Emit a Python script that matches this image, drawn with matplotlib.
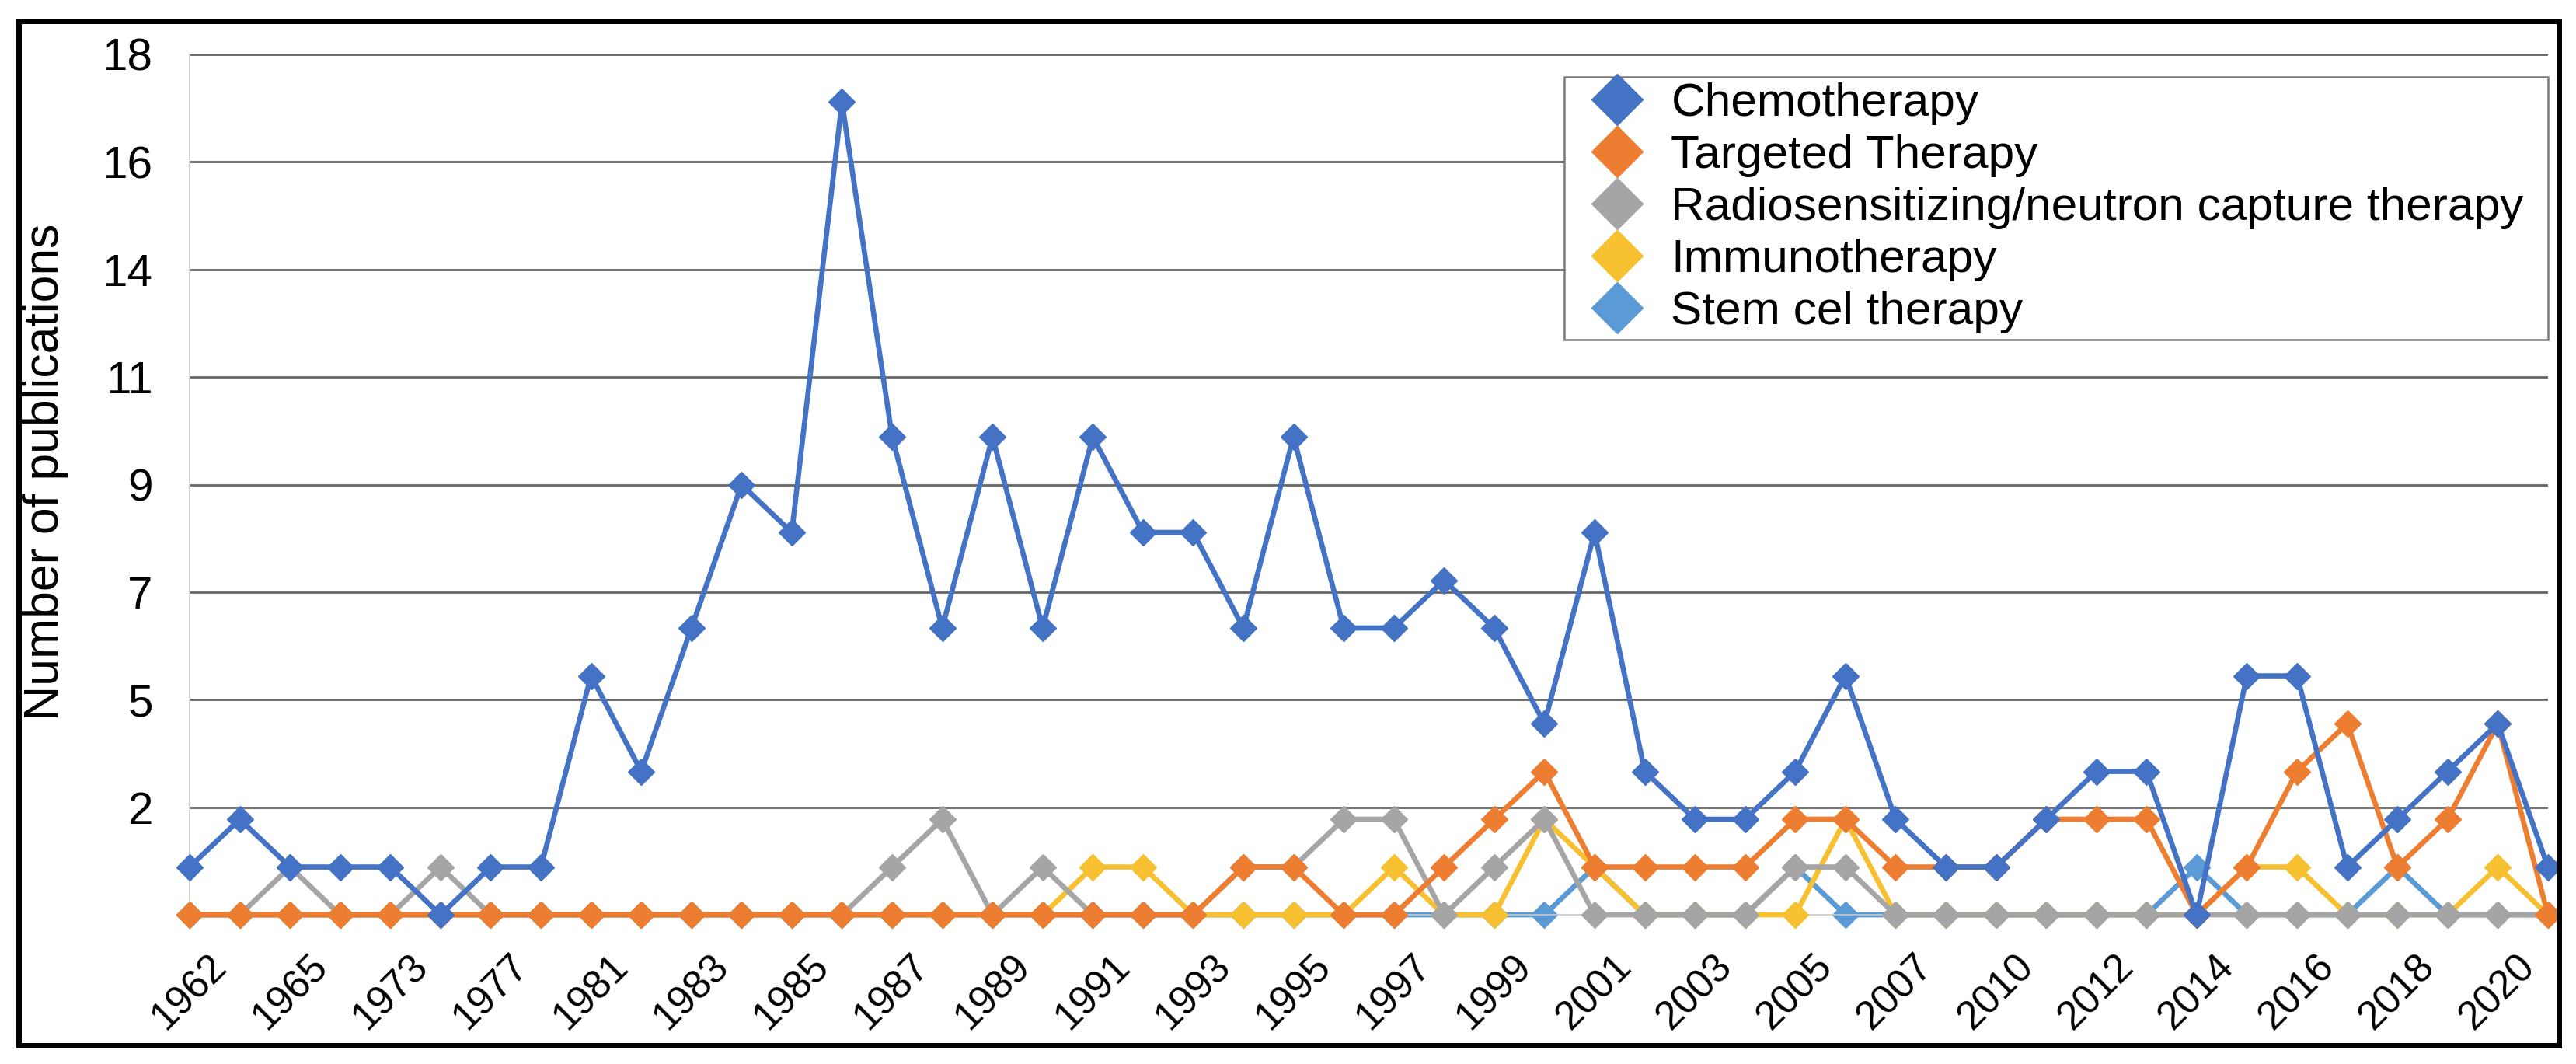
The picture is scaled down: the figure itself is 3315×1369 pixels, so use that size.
import matplotlib
matplotlib.use('Agg')
import matplotlib.pyplot as plt
from matplotlib.lines import Line2D
from matplotlib.patches import Rectangle

plt.rcParams['font.family'] = ['Liberation Sans', 'DejaVu Sans']

# visible category labels (every second year on the axis)
tick_labels = ['1962', '1965', '1973', '1977', '1981', '1983', '1985', '1987',
               '1989', '1991', '1993', '1995', '1997', '1999', '2001', '2003',
               '2005', '2007', '2010', '2012', '2014', '2016', '2018', '2020']

# y axis: 8 major units of 2.25, labels as printed (rounded)
ytick_values = [2.25, 4.5, 6.75, 9, 11.25, 13.5, 15.75, 18]
ytick_labels = ['2', '5', '7', '9', '11', '14', '16', '18']

chemotherapy = [1, 2, 1, 1, 1, 0, 1, 1, 5, 3, 6, 9, 8, 17, 10, 6,
                10, 6, 10, 8, 8, 6, 10, 6, 6, 7, 6, 4, 8, 3, 2, 2,
                3, 5, 2, 1, 1, 2, 3, 3, 0, 5, 5, 1, 2, 3, 4, 1]
targeted = [0, 0, 0, 0, 0, 0, 0, 0, 0, 0, 0, 0, 0, 0, 0, 0,
            0, 0, 0, 0, 0, 1, 1, 0, 0, 1, 2, 3, 1, 1, 1, 1,
            2, 2, 1, 1, 1, 2, 2, 2, 0, 1, 3, 4, 1, 2, 4, 0]
radiosensitizing = [0, 0, 1, 0, 0, 1, 0, 0, 0, 0, 0, 0, 0, 0, 1, 2,
                    0, 1, 0, 0, 0, 1, 1, 2, 2, 0, 1, 2, 0, 0, 0, 0,
                    1, 1, 0, 0, 0, 0, 0, 0, 0, 0, 0, 0, 0, 0, 0, 0]
immunotherapy = [0, 0, 0, 0, 0, 0, 0, 0, 0, 0, 0, 0, 0, 0, 0, 0,
                 0, 0, 1, 1, 0, 0, 0, 0, 1, 0, 0, 2, 1, 0, 0, 0,
                 0, 2, 0, 0, 0, 0, 0, 0, 0, 1, 1, 0, 0, 0, 1, 0]
stem_cell = [0, 0, 0, 0, 0, 0, 0, 0, 0, 0, 0, 0, 0, 0, 0, 0,
             0, 0, 0, 0, 0, 0, 0, 0, 0, 0, 0, 0, 1, 0, 0, 0,
             1, 0, 0, 0, 0, 0, 0, 0, 1, 0, 0, 0, 1, 0, 0, 0]

names = ['Chemotherapy', 'Targeted Therapy', 'Radiosensitizing/neutron capture therapy',
         'Immunotherapy', 'Stem cel therapy']
colors = ['#4472C4', '#ED7D31', '#A5A5A5', '#F7C030', '#5B9BD5']
values = [chemotherapy, targeted, radiosensitizing, immunotherapy, stem_cell]
zorders = [2.9, 2.8, 2.7, 2.6, 2.5]

fig = plt.figure(figsize=(33.16, 13.69), dpi=100)
ax = fig.add_axes([0.0736, 0.1402, 0.9152, 0.8087])

x = list(range(len(chemotherapy)))
for vals, color, z in zip(values, colors, zorders):
    ax.plot(x, vals, color=color, lw=4.8, marker='D', ms=17, mec=color,
            zorder=z, clip_on=False)

ax.set_xlim(0, len(x) - 1)
ax.set_ylim(0, 18)
ax.set_yticks(ytick_values)
ax.set_yticklabels(ytick_labels, fontsize=42)
ax.set_xticks(x[::2])
ax.set_xticklabels(tick_labels, rotation=45, ha='center', fontsize=37)
ax.tick_params(axis='y', length=0, pad=34)
ax.tick_params(axis='x', length=0, pad=30)

ax.yaxis.grid(True, color='#666666', lw=2.0)
ax.set_axisbelow(True)
for side in ['top', 'right']:
    ax.spines[side].set_visible(False)
ax.spines['bottom'].set_color('#c8c8c8')
ax.spines['left'].set_color('#c8c8c8')
ax.spines['bottom'].set_linewidth(1.2)
ax.spines['left'].set_linewidth(1.2)

ax.set_ylabel('Number of publications', fontsize=45)
ax.yaxis.set_label_coords(-0.0514, 0.515)

handles = [Line2D([], [], ls='', marker='D', ms=34, color=c) for c in colors]
leg = ax.legend(handles, names, loc='upper left',
                bbox_to_anchor=(0.583, 0.668, 0.417, 0.306), mode='expand',
                borderaxespad=0, fontsize=43.5, fancybox=False, framealpha=1,
                edgecolor='#7a7a7a', borderpad=0.12, handlelength=2.0,
                handletextpad=0.15, labelspacing=0.2)
leg.get_frame().set_linewidth(1.8)

# outer black frame around the whole picture
fig.patches.append(Rectangle((0.0072, 0.0175), 0.9859, 0.9628, transform=fig.transFigure,
                             fill=False, ec='black', lw=5))

fig.savefig('out.png', dpi=100, facecolor='white')
